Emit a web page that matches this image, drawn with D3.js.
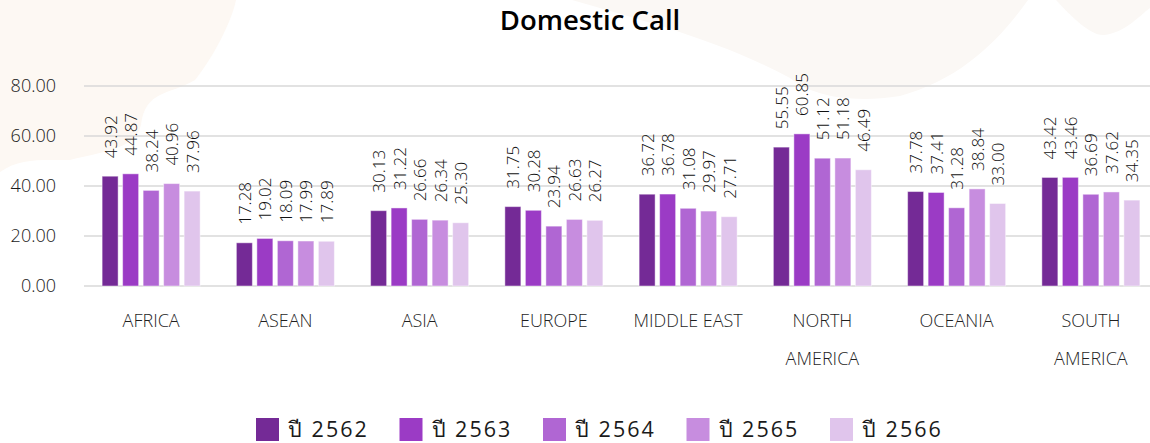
<!DOCTYPE html>
<html>
<head>
<meta charset="utf-8">
<script src="https://cdn.jsdelivr.net/npm/d3@7"></script>
<style>
  html, body { margin: 0; padding: 0; background: #ffffff; }
  svg { display: block; }
  text { font-family: "Open Sans", "Noto Sans", "DejaVu Sans", sans-serif; font-weight: 300; }
</style>
</head>
<body>
<svg id="chart" width="1150" height="443"></svg>
<script>
// Regions and yearly domestic call values
const regions = ["AFRICA", "ASEAN", "ASIA", "EUROPE", "MIDDLE EAST", "NORTH AMERICA", "OCEANIA", "SOUTH AMERICA"];
const years = ["ปี 2562", "ปี 2563", "ปี 2564", "ปี 2565", "ปี 2566"];
const y2562 = [43.92, 17.28, 30.13, 31.75, 36.72, 55.55, 37.78, 43.42];
const y2563 = [44.87, 19.02, 31.22, 30.28, 36.78, 60.85, 37.41, 43.46];
const y2564 = [38.24, 18.09, 26.66, 23.94, 31.08, 51.12, 31.28, 36.69];
const y2565 = [40.96, 17.99, 26.34, 26.63, 29.97, 51.18, 38.84, 37.62];
const y2566 = [37.96, 17.89, 25.30, 26.27, 27.71, 46.49, 33.00, 34.35];
const yTicks = [0, 20, 40, 60, 80];

const seriesValues = [y2562, y2563, y2564, y2565, y2566];
const colors = ["#742a96", "#9b3bc5", "#b066d3", "#c78ddf", "#e0c5ec"];

const svg = d3.select("#chart");
const W = 1150, H = 443;

// soft decorative background shapes
const deco = svg.append("g");
deco.append("path")
  .attr("d", "M0,0 L236,0 C232,20 215,55 195,80 C170,95 145,90 141,125 C135,150 100,152 70,160 C40,160 20,158 0,172 Z")
  .attr("fill", "#fdf8f3");
deco.append("path")
  .attr("d", "M572,0 C640,20 720,40 790,78 C810,95 850,104 900,96 C960,80 1000,40 1028,0 Z")
  .attr("fill", "#fbf8f5");
deco.append("path")
  .attr("d", "M1056,0 C1070,15 1090,36 1104,35 C1125,33 1140,15 1150,8 L1150,0 Z")
  .attr("fill", "#fbf8f5");

const margin = { left: 84, right: -8, top: 86, bottom: 157 };

const x0 = d3.scaleBand()
  .domain(regions)
  .range([margin.left, W - margin.right])
  .paddingInner(0.27)
  .paddingOuter(0.135);

const x1 = d3.scaleBand()
  .domain(d3.range(years.length))
  .range([0, x0.bandwidth()])
  .paddingInner(0.22)
  .paddingOuter(0);

const y = d3.scaleLinear()
  .domain([0, 80])
  .range([H - margin.bottom, margin.top]);

// gridlines
svg.append("g")
  .selectAll("line")
  .data(yTicks)
  .join("line")
  .attr("x1", margin.left)
  .attr("x2", W)
  .attr("y1", d => y(d))
  .attr("y2", d => y(d))
  .attr("stroke", "#d9d9d9")
  .attr("stroke-width", 1.6);

// y axis labels
const yAxis = d3.axisLeft(y).tickValues(yTicks).tickFormat(d3.format(".2f")).tickSize(0).tickPadding(0);
const yg = svg.append("g")
  .attr("transform", `translate(${56},0)`)
  .call(yAxis);
yg.select(".domain").remove();
yg.selectAll("text")
  .attr("font-size", 18)
  .attr("fill", "#1a1a1a")
  .attr("font-family", null);

// bars
const groups = svg.append("g")
  .selectAll("g")
  .data(regions)
  .join("g")
  .attr("transform", d => `translate(${x0(d)},0)`);

groups.each(function (region, ri) {
  const g = d3.select(this);
  const vals = seriesValues.map(s => s[ri]);
  g.selectAll("rect")
    .data(vals)
    .join("rect")
    .attr("x", (d, i) => x1(i))
    .attr("width", x1.bandwidth())
    .attr("y", d => y(d))
    .attr("height", d => y(0) - y(d))
    .attr("fill", (d, i) => colors[i])
    .attr("stroke", "#ffffff")
    .attr("stroke-opacity", 0.45)
    .attr("stroke-width", 1);

  g.selectAll("text.val")
    .data(vals)
    .join("text")
    .attr("class", "val")
    .attr("transform", (d, i) => `translate(${x1(i) + x1.bandwidth() / 2},${y(d) - 18}) rotate(-90)`)
    .attr("text-anchor", "start")
    .attr("dominant-baseline", "central")
    .attr("font-size", 17)
    .attr("fill", "#111111")
    .text(d => d.toFixed(2));
});

// category labels (wrapped onto two lines when needed)
const catG = svg.append("g");
regions.forEach(r => {
  const words = r === "MIDDLE EAST" ? [r] : r.split(" ");
  const t = catG.append("text")
    .attr("x", x0(r) + x0.bandwidth() / 2)
    .attr("y", 327)
    .attr("text-anchor", "middle")
    .attr("font-size", 18)
    .attr("fill", "#1f1f1f");
  words.forEach((w, i) => {
    t.append("tspan")
      .attr("x", x0(r) + x0.bandwidth() / 2)
      .attr("dy", i === 0 ? 0 : 38)
      .text(w);
  });
});

// title
svg.append("text")
  .attr("x", 590)
  .attr("y", 30)
  .attr("text-anchor", "middle")
  .attr("font-size", 27.5)
  .style("font-weight", 600)
  .attr("fill", "#000000")
  .text("Domestic Call");

// legend
const legend = svg.append("g");
years.forEach((yr, i) => {
  const lx = 256 + i * 143.5;
  legend.append("rect")
    .attr("x", lx)
    .attr("y", 418)
    .attr("width", 23)
    .attr("height", 23)
    .attr("fill", colors[i]);
  legend.append("text")
    .attr("x", lx + 32)
    .attr("y", 437)
    .attr("font-size", 21.5)
    .attr("letter-spacing", 2)
    .style("font-weight", 400)
    .attr("fill", "#1a1a1a")
    .text(yr);
});
</script>
</body>
</html>
